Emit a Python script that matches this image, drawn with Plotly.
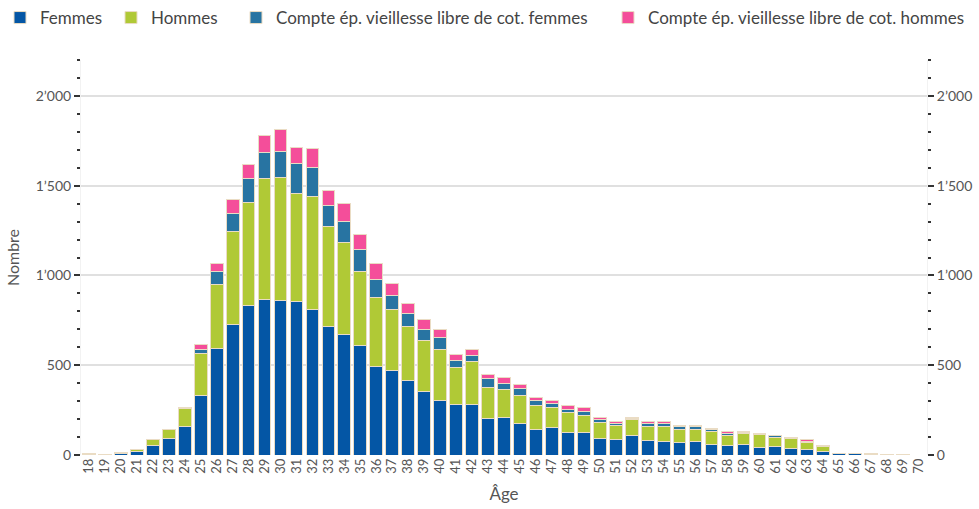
import plotly.graph_objects as go

ages = [str(a) for a in range(18, 71)]

femmes = [3, 3, 10, 19, 54, 91, 161, 330, 592, 727, 833, 865, 859, 855, 809, 718, 670, 609, 492,
          470, 414, 351, 301, 284, 282, 206, 210, 176, 141, 154, 124, 124, 93, 89, 111, 83, 76, 71, 74,
          60, 54, 56, 41, 47, 39, 30, 19, 6, 8, 2, 2, 1, 0]
hommes = [3, 2, 5, 13, 34, 50, 99, 234, 356, 518, 575, 677, 684, 600, 631, 555, 512, 412, 384,
          339, 302, 287, 289, 204, 238, 172, 156, 156, 136, 113, 110, 97, 87, 74, 84, 78, 85, 70, 69,
          72, 54, 63, 74, 51, 52, 42, 29, 2, 3, 5, 0, 2, 0]
compte_f = [0, 0, 0, 0, 0, 0, 2, 26, 76, 98, 130, 144, 149, 167, 163, 117, 120, 124, 103,
            80, 71, 62, 65, 41, 35, 47, 33, 41, 24, 19, 22, 24, 17, 12, 7, 14, 17, 15, 13,
            9, 11, 7, 4, 8, 6, 6, 3, 0, 0, 0, 0, 0, 0]
compte_h = [0, 0, 0, 0, 0, 0, 4, 24, 41, 80, 78, 95, 120, 90, 102, 81, 99, 83, 86,
            68, 59, 53, 43, 33, 35, 26, 33, 20, 20, 18, 19, 19, 14, 11, 8, 12, 8, 9, 7,
            9, 11, 6, 2, 4, 2, 6, 4, 0, 0, 0, 0, 0, 0]

series_names = ["Femmes", "Hommes", "Compte ép. vieillesse libre de cot. femmes",
                "Compte ép. vieillesse libre de cot. hommes"]
series_values = [femmes, hommes, compte_f, compte_h]
series_colors = ["#0456a5", "#b0c936", "#2874a2", "#f44e9a"]
legend_ids = ["legend", "legend2", "legend3", "legend4"]
legend_px = [0, 111, 236, 608]

y_tickvals = [0, 500, 1000, 1500, 2000]
y_ticktext = ["0", "500", "1\u2019000", "1\u2019500", "2\u2019000"]

W, H = 979, 509

fig = go.Figure()
for name, vals, col, lid in zip(series_names, series_values, series_colors, legend_ids):
    fig.add_trace(go.Bar(
        x=ages, y=vals, name=name, legend=lid,
        marker=dict(color=col, line=dict(color="#eadcc4", width=1)),
    ))

# invisible trace on the right axis so that it is drawn
fig.add_trace(go.Bar(x=ages, y=[0] * len(ages), yaxis="y2", showlegend=False,
                     marker=dict(opacity=0), hoverinfo="skip"))

font_family = "Lato, 'Open Sans', sans-serif"
axis_common = dict(
    range=[0, 2200],
    tickvals=y_tickvals, ticktext=y_ticktext,
    ticks="outside", ticklen=6, tickwidth=1.5, tickcolor="#333",
    minor=dict(dtick=100, tick0=0, ticks="outside", ticklen=3, tickwidth=1.5, tickcolor="#333"),
    tickfont=dict(size=14, color="#555", family=font_family),
    zeroline=False,
    fixedrange=True,
    automargin=False,
)

legends = {}
for lid, px in zip(legend_ids, legend_px):
    legends[lid] = dict(orientation="h", xref="container", x=px / W, xanchor="left",
                        yref="container", y=1.0, yanchor="top",
                        font=dict(size=17, color="#444"), itemwidth=30,
                        bgcolor="rgba(0,0,0,0)")

fig.update_layout(
    width=W, height=H,
    barmode="stack",
    bargap=0.2,
    plot_bgcolor="white", paper_bgcolor="white",
    margin=dict(l=81, r=52, t=60, b=54),
    font=dict(family=font_family, color="#555"),
    **legends,
    xaxis=dict(
        type="category",
        range=[-0.5, len(ages) - 0.5],
        tickmode="array", tickvals=ages, ticktext=ages,
        tickangle=-90,
        tickfont=dict(size=13, color="#555"),
        ticks="", showline=False,
        automargin=False,
        title=dict(text="Âge", font=dict(size=17, color="#555"), standoff=15),
    ),
    yaxis=dict(
        **axis_common,
        showgrid=True, gridcolor="#e0e0e0", gridwidth=1.5,
        showline=True, linecolor="#f2f2f2", linewidth=1,
        title=dict(text="Nombre", font=dict(size=16, color="#555"), standoff=12),
    ),
    yaxis2=dict(
        **axis_common,
        overlaying="y", side="right", showgrid=False,
        showline=True, linecolor="#f2f2f2", linewidth=1,
    ),
)

fig.write_html("out.html", config={"displayModeBar": False},
               post_script="document.body.style.margin='0';")
